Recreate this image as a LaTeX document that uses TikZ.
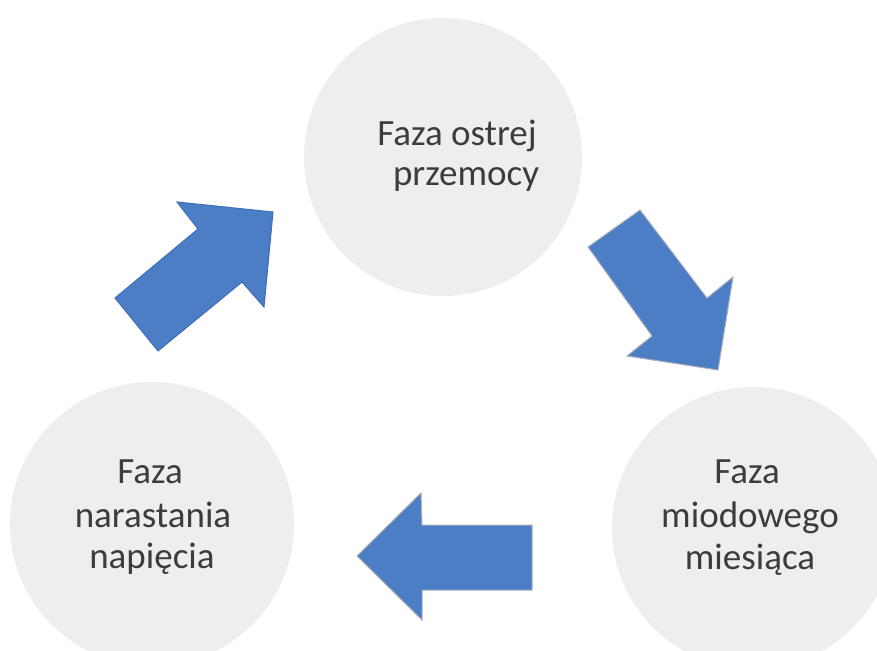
\documentclass[tikz,border=0pt]{standalone}
\usepackage{fontspec}
\setmainfont{Carlito}
\definecolor{circfill}{RGB}{238,238,236}
\definecolor{arrowblue}{RGB}{76,126,198}
\definecolor{arrowedge}{RGB}{60,110,185}
\definecolor{grayedge}{RGB}{170,175,185}
\definecolor{txt}{RGB}{60,60,60}
\begin{document}
\begin{tikzpicture}[x=1pt,y=-1pt,
  phase/.style={circle,fill=circfill,draw=none,inner sep=0pt},
  lbl/.style={anchor=base,text=txt,inner sep=0pt,font=\fontsize{37}{40}\selectfont},
  blockarrow/.style={fill=arrowblue,draw=arrowedge,line width=1pt,line join=miter}]
\useasboundingbox (0,0) rectangle (877,650);
\fill[white] (0,0) rectangle (877,650);
% circles
\node[phase,minimum size=278pt] (c1) at (443,157) {};
\node[phase,minimum size=282pt] (c2) at (753,528) {};
\node[phase,minimum size=284pt] (c3) at (152,524) {};
% labels
\node[lbl] (c1a) at (457,145) {Faza ostrej};
\node[lbl] (c1b) at (466,185) {przemocy};
\node[lbl] (c2a) at (747,483) {Faza};
\node[lbl] (c2b) at (750,527) {miodowego};
\node[lbl] (c2c) at (750,569) {miesiąca};
\node[lbl] (c3a) at (150,483) {Faza};
\node[lbl] (c3b) at (153,527) {narastania};
\node[lbl] (c3c) at (152,568) {napięcia};
% block arrows
\draw[blockarrow] (115,298) -- (198,229) -- (177,202) -- (273,212) -- (264,307) -- (242,282) -- (158,351) -- cycle;
\draw[blockarrow,draw=grayedge] (588,247) -- (640,210) -- (707,298) -- (733,277) -- (718,370) -- (627,356) -- (652,336) -- cycle;
\draw[blockarrow,draw=grayedge] (357,556) -- (421,493) -- (422,525) -- (532,525) -- (532,590) -- (422,590) -- (422,620) -- cycle;
\end{tikzpicture}
\end{document}
